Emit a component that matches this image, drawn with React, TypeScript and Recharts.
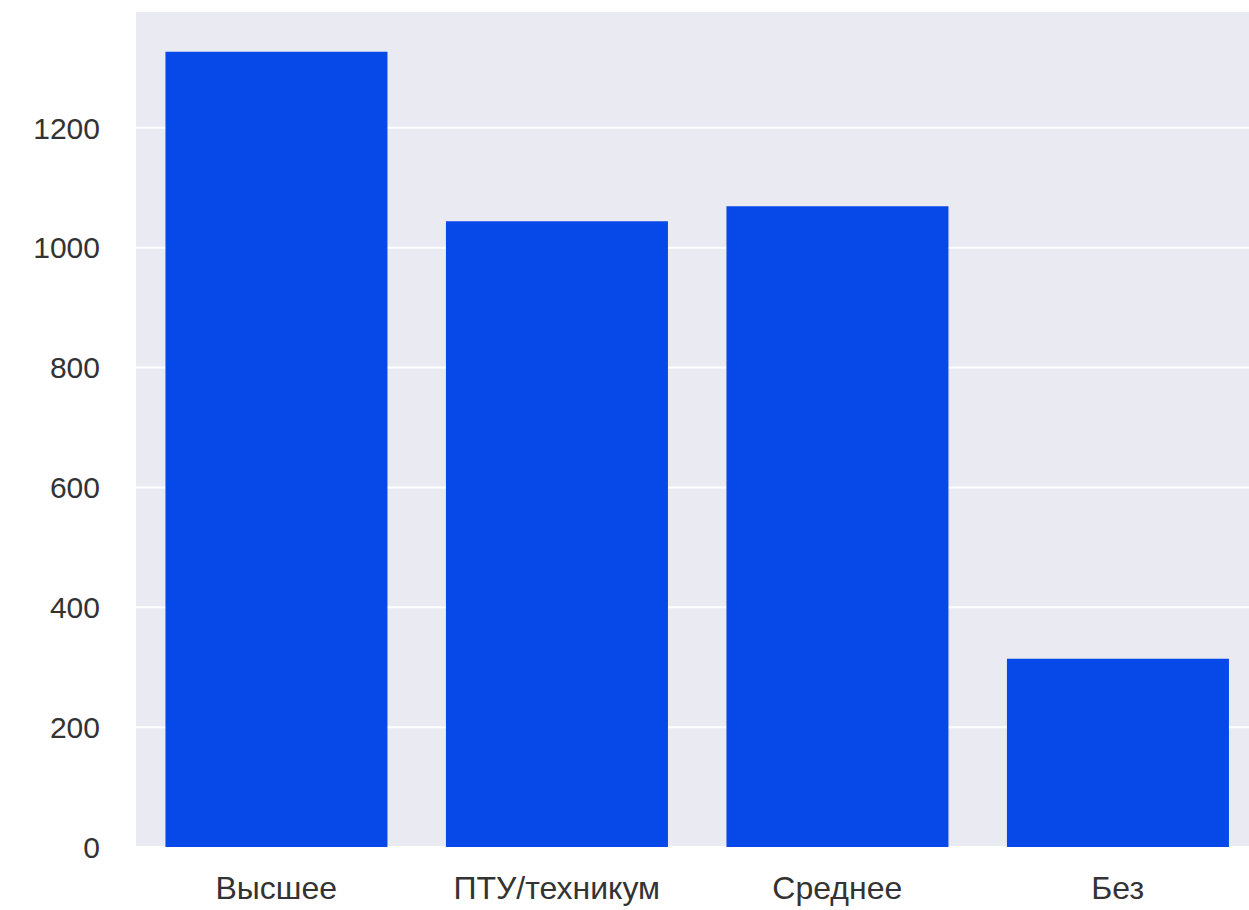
import { BarChart, Bar, XAxis, YAxis, CartesianGrid } from 'recharts'

const categories = ['Высшее', 'ПТУ/техникум', 'Среднее', 'Без']
const counts = [1327, 1044, 1069, 314]
const yTicks = [0, 200, 400, 600, 800, 1000, 1200]
const yMax = 1395

const data = categories.map((name, i) => ({ name, count: counts[i] }))

const font = '"Liberation Sans", Arial, sans-serif'
const yTickStyle = { fill: '#333333', fontSize: 30, fontFamily: font }
const xTickStyle = { fill: '#333333', fontSize: 32, fontFamily: font }

// the source picture is cropped on the right, so the plot runs a bit past the window edge
export default function App() {
  return (
    <div style={{ position: 'fixed', left: 0, top: 0, background: '#fff' }}>
      <BarChart
        width={1258}
        height={910}
        data={data}
        margin={{ top: 11, right: 0, left: 0, bottom: 0 }}
        barCategoryGap="10.5%"
      >
        <CartesianGrid
          vertical={false}
          stroke="#ffffff"
          strokeWidth={2}
          fill="#eaeaf2"
          fillOpacity={1}
        />
        <XAxis
          dataKey="name"
          height={63}
          axisLine={false}
          tickLine={false}
          tickSize={0}
          tickMargin={29}
          tick={xTickStyle}
          interval={0}
        />
        <YAxis
          width={136}
          domain={[0, yMax]}
          ticks={yTicks}
          axisLine={false}
          tickLine={false}
          tickSize={0}
          tickMargin={36}
          tick={yTickStyle}
        />
        <Bar dataKey="count" fill="#0748e8" isAnimationActive={false} />
      </BarChart>
    </div>
  )
}
